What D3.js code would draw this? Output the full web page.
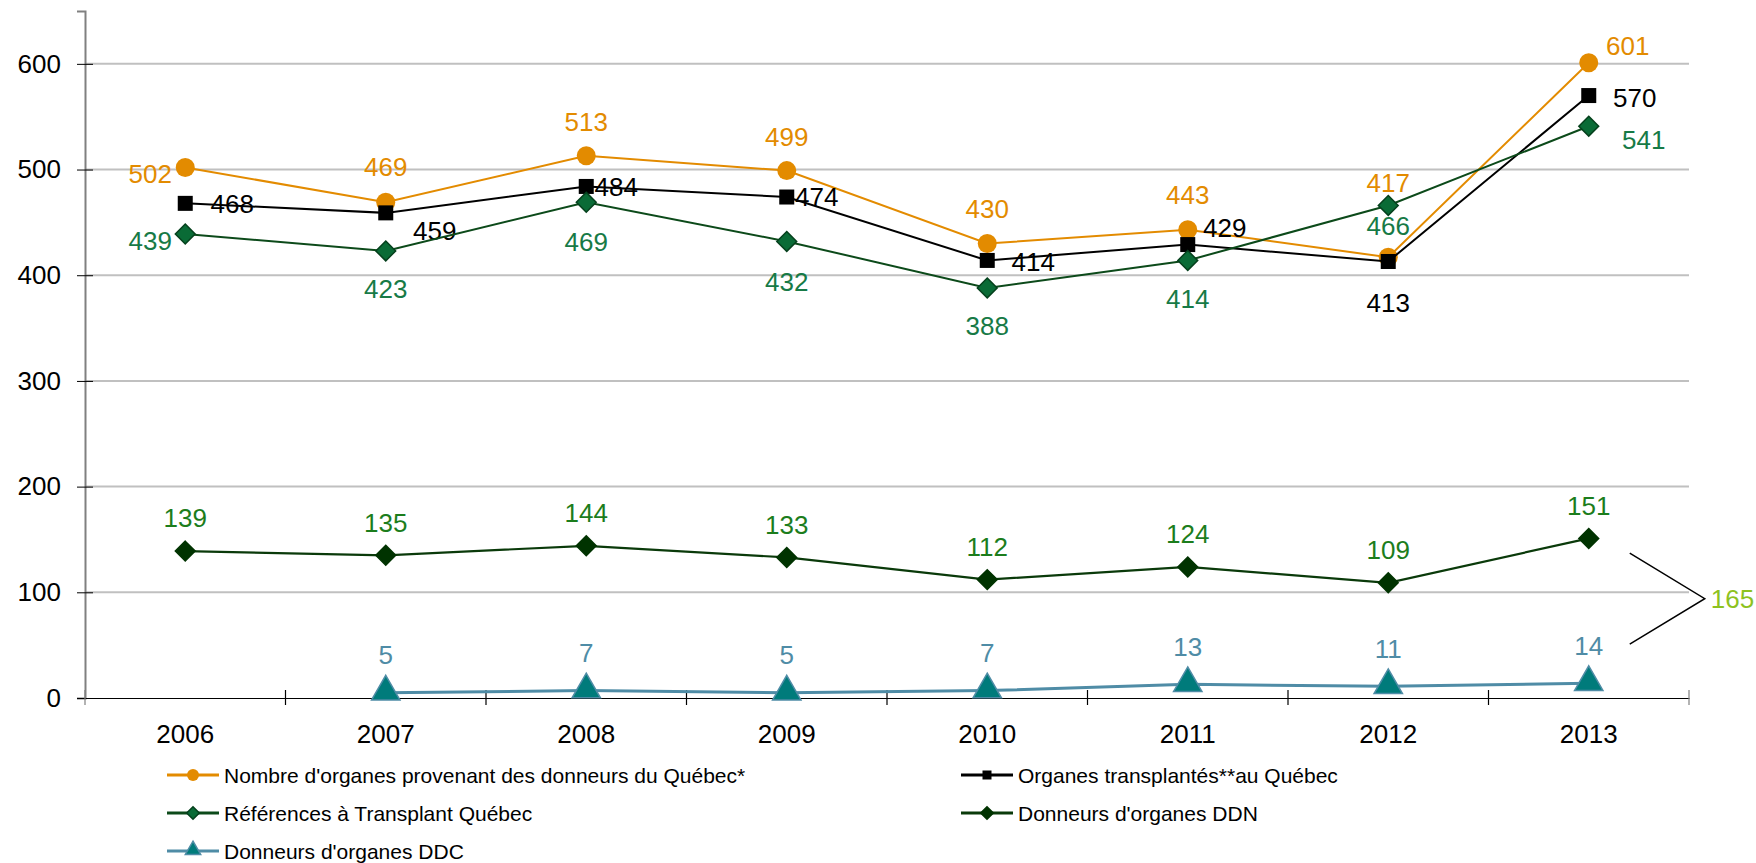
<!DOCTYPE html>
<html>
<head>
<meta charset="utf-8">
<script src="https://cdn.jsdelivr.net/npm/d3@7"></script>
<style>
    body { margin: 0; background: #fff; }
    svg text { font-family: "Liberation Sans", Arial, sans-serif; }
</style>
</head>
<body>
<svg id="chart" width="1756" height="863"></svg>
<script>
// data
let years = ["2006", "2007", "2008", "2009", "2010", "2011", "2012", "2013"],
    organes_qc = [502, 469, 513, 499, 430, 443, 417, 601],
    organes_transpl = [468, 459, 484, 474, 414, 429, 413, 570],
    references_tq = [439, 423, 469, 432, 388, 414, 466, 541],
    donneurs_ddn = [139, 135, 144, 133, 112, 124, 109, 151],
    donneurs_ddc = [null, 5, 7, 5, 7, 13, 11, 14],
    y_ticks = [0, 100, 200, 300, 400, 500, 600];

let series_names = [
    "Nombre d'organes provenant des donneurs du Québec*",
    "Organes transplantés**au Québec",
    "Références à Transplant Québec",
    "Donneurs d'organes DDN",
    "Donneurs d'organes DDC"
];

// label offsets (px) from each point
let lbl_orange = [[-35, 6], [0, -36], [0, -34], [0, -34], [0, -35], [0, -35], [0, -75], [39, -17]],
    lbl_black = [[47, 0], [49, 18], [30, 0], [30, 0], [46, 1], [37, -17], [0, 41], [46, 2]],
    lbl_green = [[-35, 7], [0, 38], [0, 39], [0, 40], [0, 38], [0, 38], [0, 20], [55, 13]],
    lbl_ddn = years.map(() => [0, -33]),
    lbl_ddc = years.map(() => [0, -38]);

let svg = d3.select("#chart"),
    margin = {top: 11, left: 85, right: 67, bottom: 165},
    width = 1756 - margin.left - margin.right,
    height = 863 - margin.top - margin.bottom,
    x = d3.scaleBand().domain(years).range([0, width]),
    y = d3.scaleLinear().domain([0, 650]).range([height, 0]),
    cx = d => x(d) + x.bandwidth() / 2;

let g = svg.append("g")
    .attr("transform", "translate(" + margin.left + "," + margin.top + ")");

// gridlines
g.append("g").attr("class", "grid")
    .selectAll("line")
    .data(y_ticks.filter(d => d > 0))
    .enter().append("line")
    .attr("x1", 0)
    .attr("x2", width)
    .attr("y1", d => y(d))
    .attr("y2", d => y(d))
    .attr("stroke", "#c0c0c0")
    .attr("stroke-width", 2);

// y axis
let y_axis = g.append("g").attr("class", "axis axis--y")
    .call(d3.axisLeft(y).tickValues(y_ticks).tickSize(8).tickPadding(16));
y_axis.select(".domain").attr("stroke", "#808080").attr("stroke-width", 2);
y_axis.selectAll(".tick line").attr("x1", 8).attr("stroke", "#000");
y_axis.selectAll(".tick text")
    .attr("font-size", "26px")
    .attr("font-family", "Liberation Sans, Arial, sans-serif")
    .attr("fill", "#000");

// x axis
let x_axis = g.append("g").attr("class", "axis axis--x")
    .attr("transform", "translate(0," + height + ")")
    .call(d3.axisBottom(x).tickSize(0).tickPadding(27));
x_axis.select(".domain").attr("stroke", "#000").attr("stroke-width", 1.2);
x_axis.selectAll(".tick text")
    .attr("font-size", "26px")
    .attr("font-family", "Liberation Sans, Arial, sans-serif")
    .attr("fill", "#000");
x_axis.selectAll("line.sep")
    .data(d3.range(years.length + 1))
    .enter().append("line")
    .attr("class", "sep")
    .attr("x1", i => i * x.step())
    .attr("x2", i => i * x.step())
    .attr("y1", -8)
    .attr("y2", 7)
    .attr("stroke", (i) => (i === 0 || i === years.length) ? "#808080" : "#000")
    .attr("stroke-width", 1.2);

// marker shapes
function drawMarker(sel, shape, size, fill, stroke) {
    if (shape === "circle") {
        sel.append("circle").attr("r", size / 2).attr("fill", fill).attr("stroke", stroke);
    } else if (shape === "square") {
        sel.append("rect").attr("x", -size / 2).attr("y", -size / 2)
            .attr("width", size).attr("height", size).attr("fill", fill);
    } else {
        let sym = shape === "diamond" ? d3.symbolDiamond2 : d3.symbolTriangle2;
        let s = shape === "diamond" ? size * 0.72 : size;
        sel.append("path")
            .attr("d", d3.symbol().type(sym).size(s * s))
            .attr("transform", shape === "triangle" ? "translate(0,-1)" : null)
            .attr("fill", fill)
            .attr("stroke", stroke)
            .attr("stroke-width", 1.5);
    }
}

let series = [
    {name: series_names[0], values: organes_qc, line: "#e38b00", lw: 2, shape: "circle", size: 19,
        fill: "#e38b00", stroke: "none", label: "#e38b00", offs: lbl_orange, lsize: 12},
    {name: series_names[1], values: organes_transpl, line: "#000", lw: 2, shape: "square", size: 15,
        fill: "#000", stroke: "none", label: "#000", offs: lbl_black, lsize: 9},
    {name: series_names[2], values: references_tq, line: "#0c4a1a", lw: 2, shape: "diamond", size: 22,
        fill: "#0a6b36", stroke: "#05401c", label: "#177a46", offs: lbl_green, lsize: 14},
    {name: series_names[3], values: donneurs_ddn, line: "#0a3a0a", lw: 2.2, shape: "diamond", size: 22,
        fill: "#003300", stroke: "#003300", label: "#1c7d1c", offs: lbl_ddn, lsize: 14},
    {name: series_names[4], values: donneurs_ddc, line: "#4f8ca6", lw: 3, shape: "triangle", size: 24,
        fill: "#007b7b", stroke: "#4f8ca6", label: "#4f8ca6", offs: lbl_ddc, lsize: 13}
];

let line = d3.line()
    .defined(d => d.v !== null)
    .x(d => cx(d.year))
    .y(d => y(d.v));

series.forEach(s => {
    let pts = years.map((yr, i) => ({year: yr, v: s.values[i], off: s.offs[i]}));
    let sg = g.append("g").attr("class", "series");
    sg.append("path")
        .datum(pts)
        .attr("d", line)
        .attr("fill", "none")
        .attr("stroke", s.line)
        .attr("stroke-width", s.lw);
    sg.selectAll("g.pt")
        .data(pts.filter(d => d.v !== null))
        .enter().append("g")
        .attr("class", "pt")
        .attr("transform", d => "translate(" + cx(d.year) + "," + y(d.v) + ")")
        .each(function () { drawMarker(d3.select(this), s.shape, s.size, s.fill, s.stroke); });
    sg.selectAll("text.val")
        .data(pts.filter(d => d.v !== null))
        .enter().append("text")
        .attr("class", "val")
        .attr("x", d => cx(d.year) + d.off[0])
        .attr("y", d => y(d.v) + d.off[1])
        .attr("dy", "0.36em")
        .attr("text-anchor", "middle")
        .attr("font-size", "26px")
        .attr("fill", s.label)
        .text(d => d.v);
});

// bracket summing the last DDN + DDC values
let last = years[years.length - 1],
    total = donneurs_ddn[donneurs_ddn.length - 1] + donneurs_ddc[donneurs_ddc.length - 1],
    bx = cx(last);
g.append("path")
    .attr("d", d3.line()([[bx + 41, y(137)], [bx + 116, y(94)], [bx + 41, y(51)]]))
    .attr("fill", "none")
    .attr("stroke", "#000")
    .attr("stroke-width", 1.5);
g.append("text")
    .attr("x", bx + 122)
    .attr("y", y(94))
    .attr("dy", "0.36em")
    .attr("font-size", "26px")
    .attr("fill", "#8dc21f")
    .text(total);

// legend
let legend_pos = [[0, 0], [1, 0], [0, 1], [1, 1], [0, 2]],
    leg_x = [167, 961],
    leg_y0 = 775,
    leg_dy = 38;
let leg = svg.append("g").attr("class", "legend");
series.forEach((s, i) => {
    let lx = leg_x[legend_pos[i][0]],
        ly = leg_y0 + legend_pos[i][1] * leg_dy,
        item = leg.append("g").attr("transform", "translate(" + lx + "," + ly + ")");
    item.append("line")
        .attr("x1", 0).attr("x2", 52)
        .attr("stroke", s.line)
        .attr("stroke-width", 3);
    let m = item.append("g").attr("transform", "translate(26,0)");
    drawMarker(m, s.shape, s.lsize, s.fill, s.stroke);
    item.append("text")
        .attr("x", 57)
        .attr("dy", "0.36em")
        .attr("font-size", "21px")
        .attr("fill", "#000")
        .text(s.name);
});
</script>
</body>
</html>
